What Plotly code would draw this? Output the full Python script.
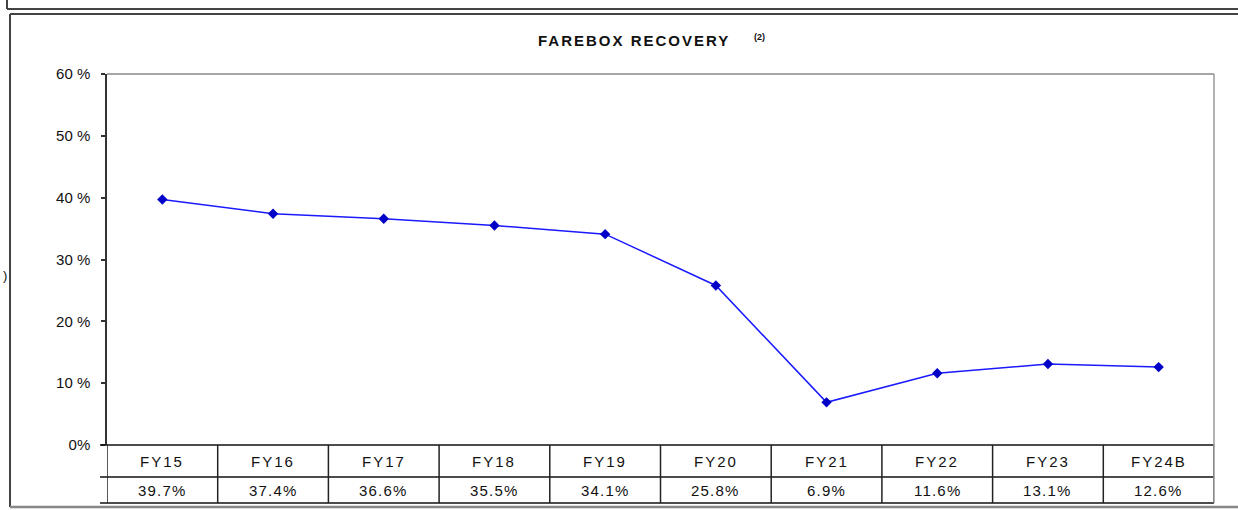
import plotly.graph_objects as go

categories = ["FY15", "FY16", "FY17", "FY18", "FY19", "FY20", "FY21", "FY22", "FY23", "FY24B"]
values = [39.7, 37.4, 36.6, 35.5, 34.1, 25.8, 6.9, 11.6, 13.1, 12.6]
value_labels = ["39.7%", "37.4%", "36.6%", "35.5%", "34.1%", "25.8%", "6.9%", "11.6%", "13.1%", "12.6%"]
tick_vals = [0, 10, 20, 30, 40, 50, 60]
tick_text = ["0%", "10 %", "20 %", "30 %", "40 %", "50 %", "60 %"]

W, H = 1238, 510
L, R, T, B = 107, 24, 74, 65
pw, ph = W - L - R, H - T - B

def px_x(px):
    return (px - L) / pw

def px_y(py):
    return (H - B - py) / ph

FONT = "Liberation Sans, Arial, sans-serif"
n = len(categories)
xs = list(range(n))

def spaced(txt, sp):
    return "<span style='letter-spacing:%spx'>%s</span>" % (sp, txt)

fig = go.Figure()
fig.add_trace(go.Scatter(
    x=xs, y=values, mode="lines+markers",
    line=dict(color="#1a1aff", width=1.5),
    marker=dict(symbol="diamond", size=8, color="#0000c8"),
    hoverinfo="skip", showlegend=False,
))

shapes = []
line_black = dict(color="#111111", width=1.5)
for py in [445, 477, 503]:
    shapes.append(dict(type="line", xref="paper", yref="paper",
                       x0=px_x(100), x1=1, y0=px_y(py), y1=px_y(py), line=line_black))
for k in range(n + 1):
    shapes.append(dict(type="line", xref="x", yref="paper",
                       x0=k - 0.5, x1=k - 0.5, y0=px_y(445), y1=px_y(503),
                       line=dict(color="#222222", width=1.5)))
shapes.append(dict(type="line", xref="paper", yref="paper", x0=0, x1=1, y0=1, y1=1,
                   line=dict(color="#888888", width=1.5)))
shapes.append(dict(type="line", xref="paper", yref="paper", x0=1, x1=1, y0=px_y(503), y1=1,
                   line=dict(color="#999999", width=1.5)))
frame = dict(color="#444444", width=2)
shapes.append(dict(type="line", xref="paper", yref="paper", x0=px_x(10), x1=px_x(1238), y0=px_y(14), y1=px_y(14), line=frame))
shapes.append(dict(type="line", xref="paper", yref="paper", x0=px_x(10), x1=px_x(10), y0=px_y(14), y1=px_y(507), line=frame))
shapes.append(dict(type="line", xref="paper", yref="paper", x0=px_x(10), x1=px_x(1238), y0=px_y(507), y1=px_y(507), line=dict(color="#888888", width=2.5)))
shapes.append(dict(type="line", xref="paper", yref="paper", x0=px_x(7), x1=px_x(1238), y0=px_y(9), y1=px_y(9), line=frame))
shapes.append(dict(type="line", xref="paper", yref="paper", x0=px_x(7), x1=px_x(7), y0=px_y(0), y1=px_y(9), line=frame))

annotations = []
for i, (c, v) in enumerate(zip(categories, value_labels)):
    annotations.append(dict(x=i, y=px_y(461), xref="x", yref="paper", text=spaced(c, 2), showarrow=False,
                            font=dict(family=FONT, size=15, color="#111111"), xanchor="center", yanchor="middle"))
    annotations.append(dict(x=i, y=px_y(490), xref="x", yref="paper", text=spaced(v, 1.2), showarrow=False,
                            font=dict(family=FONT, size=15, color="#111111"), xanchor="center", yanchor="middle"))
annotations.append(dict(x=px_x(536), y=px_y(41), xref="paper", yref="paper",
                        text=spaced("<b>FAREBOX RECOVERY</b>", 2.0),
                        showarrow=False, font=dict(family=FONT, size=15, color="#111111"),
                        xanchor="left", yanchor="middle"))
annotations.append(dict(x=px_x(752), y=px_y(37), xref="paper", yref="paper",
                        text="<b>(2)</b>",
                        showarrow=False, font=dict(family=FONT, size=9, color="#111111"),
                        xanchor="left", yanchor="middle"))
annotations.append(dict(x=px_x(1), y=px_y(275), xref="paper", yref="paper", text=")",
                        showarrow=False, font=dict(family=FONT, size=13, color="#111111"),
                        xanchor="left", yanchor="middle"))

fig.update_layout(
    width=W, height=H,
    margin=dict(l=L, r=R, t=T, b=B),
    paper_bgcolor="white", plot_bgcolor="white",
    xaxis=dict(range=[-0.5, n - 0.5], showgrid=False, zeroline=False, showticklabels=False,
               showline=False, ticks=""),
    yaxis=dict(range=[0, 60], tickvals=tick_vals, ticktext=tick_text, showgrid=False, zeroline=False,
               showline=True, linecolor="#333333", linewidth=1.5, ticks="outside", ticklen=4,
               tickcolor="#333333", tickwidth=1.5, ticklabelstandoff=8,
               tickfont=dict(family=FONT, size=15, color="#111111")),
    shapes=shapes, annotations=annotations,
)

fig.write_html("out.html", config={"displayModeBar": False},
               post_script="document.body.style.margin='0';document.body.style.overflow='hidden';")
